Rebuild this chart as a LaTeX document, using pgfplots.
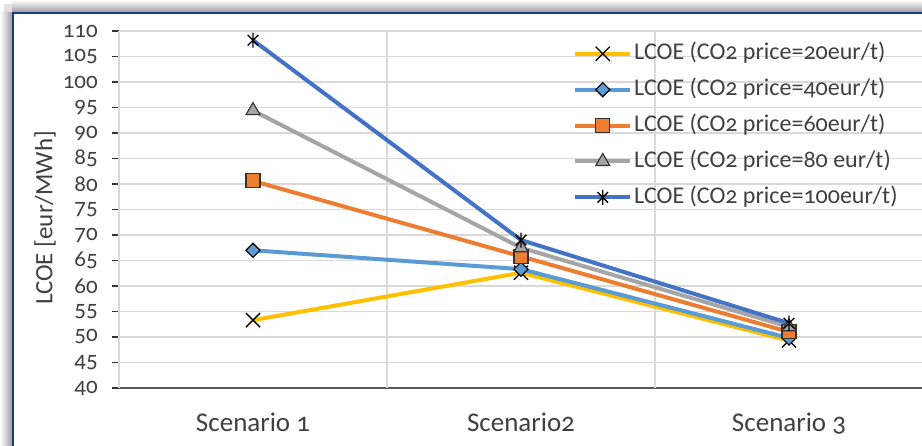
\documentclass[border=0pt]{standalone}
\usepackage{fontspec}
\setmainfont{Carlito}[Numbers=OldStyle]
\usepackage{pgfplots}
\pgfplotsset{compat=1.18}
\definecolor{cA}{HTML}{FFC000}
\definecolor{cB}{HTML}{5B9BD5}
\definecolor{cC}{HTML}{ED7D31}
\definecolor{cD}{HTML}{A5A5A5}
\definecolor{cE}{HTML}{4472C4}
\definecolor{frame}{HTML}{1F3A80}
\definecolor{gridc}{HTML}{D9D9D9}
\definecolor{txt}{HTML}{404040}
\definecolor{axc}{HTML}{595959}
\pgfdeclareplotmark{xstar}{%
  \pgfpathmoveto{\pgfqpoint{-.7071\pgfplotmarksize}{-.7071\pgfplotmarksize}}%
  \pgfpathlineto{\pgfqpoint{.7071\pgfplotmarksize}{.7071\pgfplotmarksize}}%
  \pgfpathmoveto{\pgfqpoint{-.7071\pgfplotmarksize}{.7071\pgfplotmarksize}}%
  \pgfpathlineto{\pgfqpoint{.7071\pgfplotmarksize}{-.7071\pgfplotmarksize}}%
  \pgfpathmoveto{\pgfqpoint{0pt}{-\pgfplotmarksize}}%
  \pgfpathlineto{\pgfqpoint{0pt}{\pgfplotmarksize}}%
  \pgfusepathqstroke}
\begin{document}
\begin{tikzpicture}[x=1pt,y=1pt]
\useasboundingbox (0,0) rectangle (922,446);
\clip (0,0) rectangle (922,446);
\fill[white] (0,0) rectangle (922,446);
\fill[left color=white, right color=black!38] (0,0) rectangle (12,434);
\fill[top color=white, bottom color=black!38] (12,434) rectangle (922,446);
\fill[black!12] (4,434) rectangle (12,442);
\draw[frame, line width=2pt] (13,-10) rectangle (940,433);
\begin{axis}[
  at={(119pt,58pt)}, anchor=south west,
  scale only axis, width=804pt, height=357pt,
  xmin=0.5, xmax=3.5, ymin=40, ymax=110,
  axis lines*=left,
  x axis line style={draw=axc, line width=2.5pt},
  y axis line style={draw=black!80, line width=1.2pt},
  xtick={1,2,3},
  xticklabels={Scenario 1, Scenario2, Scenario 3},
  x tick style={draw=none},
  extra x ticks={0.5,1.5,2.5,3.5},
  extra x tick labels={},
  extra x tick style={xmajorgrids=true, tick align=outside, major tick length=8pt,
     tick style={draw=black!80, line width=1.2pt}},
  ytick={40,45,...,110},
  yticklabel={\fontsize{23}{27}\selectfont\pgfmathprintnumber[assume math mode=true]{\tick}},
  ymajorgrids=true,
  grid style={draw=gridc, line width=1.3pt},
  tick align=outside,
  major tick length=7pt,
  y tick style={draw=black!80, line width=1.2pt},
  yticklabel style={text=txt, inner sep=0pt, xshift=-14pt},
  xticklabel style={font=\fontsize{27}{31}\selectfont, text=txt, inner sep=0pt, yshift=-18pt},
  ylabel={LCOE [eur/MWh]},
  ylabel style={font=\fontsize{25}{30}\selectfont, text=txt, at={(axis description cs:-0.092,0.476)}, anchor=center},
  legend cell align=left,
  legend image code/.code={\draw[mark repeat=2,mark phase=2,#1] plot coordinates {(0pt,0pt) (27.5pt,0pt) (55pt,0pt)};},
  legend style={at={(rel axis cs:0.561,0.976)}, anchor=north west, draw=none, fill=none,
     font=\fontsize{24}{28}\selectfont, text=txt, row sep=11.9pt,
     nodes={inner sep=0pt, text height=18pt, text depth=6pt},
     /tikz/every odd column/.append style={column sep=2pt}},
  every axis plot/.append style={line width=4pt},
]
\addplot[cA, mark=x, mark size=10pt, mark options={draw=black, line width=1.3pt}] coordinates {(1,53.3) (2,62.6) (3,49.3)};
\addlegendentry{LCOE (CO2 price=20eur/t)}
\addplot[cB, mark=square*, mark size=5pt, mark options={draw=black, fill=cB, line width=1.1pt, rotate=45}] coordinates {(1,67.0) (2,63.3) (3,49.8)};
\addlegendentry{LCOE (CO2 price=40eur/t)}
\addplot[cC, mark=square*, mark size=7pt, mark options={draw=black!80, fill=cC, line width=1.1pt}] coordinates {(1,80.6) (2,65.8) (3,51.0)};
\addlegendentry{LCOE (CO2 price=60eur/t)}
\addplot[cD, mark=triangle*, mark size=8pt, mark options={draw=black!80, fill=cD, line width=1.1pt}] coordinates {(1,94.4) (2,67.5) (3,52.0)};
\addlegendentry{LCOE (CO2 price=80 eur/t)}
\addplot[cE, mark=xstar, mark size=7.5pt, mark options={draw=black, line width=1.3pt}] coordinates {(1,108.2) (2,69.0) (3,52.7)};
\addlegendentry{LCOE (CO2 price=100eur/t)}
\end{axis}
\end{tikzpicture}
\end{document}
